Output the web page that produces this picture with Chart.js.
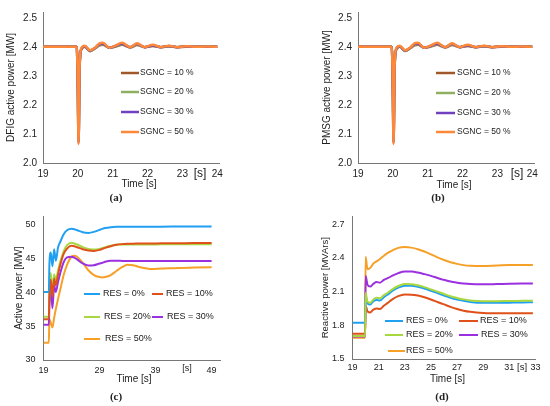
<!DOCTYPE html>
<html>
<head>
<meta charset="utf-8">
<script src="https://cdn.jsdelivr.net/npm/chart.js@4.4.1/dist/chart.umd.min.js"></script>
<style>
  body { margin: 0; background: #fff; }
  #wrap { position: relative; width: 550px; height: 406px; overflow: hidden; }
  canvas { position: absolute; }
  .tag { position: absolute; font: bold 11px 'Liberation Serif', 'DejaVu Serif', serif; color: #222; transform: translate(-50%, -50%); }
</style>
</head>
<body>
<div id="wrap">
  <canvas id="chartA" width="275" height="203" style="left:0;top:0;width:275px;height:203px"></canvas>
  <canvas id="chartB" width="275" height="203" style="left:275px;top:0;width:275px;height:203px"></canvas>
  <canvas id="chartC" width="275" height="203" style="left:0;top:203px;width:275px;height:203px"></canvas>
  <canvas id="chartD" width="275" height="203" style="left:275px;top:203px;width:275px;height:203px"></canvas>
  <div class="tag" style="left:116px;top:197px">(a)</div>
  <div class="tag" style="left:438px;top:197px">(b)</div>
  <div class="tag" style="left:116px;top:396px">(c)</div>
  <div class="tag" style="left:442px;top:396px">(d)</div>
</div>
<script>
const FONT = "'Liberation Sans', Arial, Helvetica, sans-serif";

// ---- (a) DFIG active power, MW ----
const timeA = [19, 19.97, 20.0, 20.02, 20.05, 20.1, 20.2, 20.35, 20.5, 20.62, 20.72, 20.9, 21.08, 21.27, 21.5, 21.7, 21.92, 22.15, 22.38, 22.62, 22.85, 23.1, 23.4, 23.7, 24];
const dfig10 = [2.4, 2.4, 2.25, 2.08, 2.33, 2.391, 2.400, 2.385, 2.395, 2.405, 2.407, 2.397, 2.401, 2.407, 2.398, 2.406, 2.399, 2.403, 2.399, 2.401, 2.399, 2.400, 2.400, 2.400, 2.400];
const dfig20 = [2.4, 2.4, 2.25, 2.075, 2.33, 2.392, 2.401, 2.386, 2.396, 2.407, 2.409, 2.397, 2.402, 2.409, 2.399, 2.408, 2.399, 2.404, 2.399, 2.402, 2.399, 2.401, 2.400, 2.400, 2.400];
const dfig30 = [2.4, 2.4, 2.25, 2.07, 2.33, 2.393, 2.402, 2.387, 2.397, 2.409, 2.411, 2.397, 2.403, 2.411, 2.399, 2.410, 2.399, 2.405, 2.399, 2.403, 2.399, 2.401, 2.400, 2.400, 2.400];
const dfig50 = [2.4, 2.4, 2.25, 2.065, 2.33, 2.395, 2.404, 2.388, 2.398, 2.412, 2.414, 2.397, 2.404, 2.414, 2.399, 2.412, 2.399, 2.407, 2.399, 2.404, 2.399, 2.402, 2.400, 2.401, 2.400];

// ---- (b) PMSG active power, MW ----
const timeB = [19, 19.97, 20.0, 20.02, 20.05, 20.1, 20.2, 20.35, 20.5, 20.62, 20.72, 20.9, 21.08, 21.27, 21.5, 21.7, 21.92, 22.15, 22.38, 22.62, 22.85, 23.1, 23.4, 23.7, 24];
const pmsg10 = [2.4, 2.4, 2.25, 2.08, 2.33, 2.391, 2.400, 2.386, 2.395, 2.405, 2.407, 2.397, 2.401, 2.407, 2.398, 2.406, 2.399, 2.403, 2.399, 2.401, 2.399, 2.400, 2.400, 2.400, 2.400];
const pmsg20 = [2.4, 2.4, 2.25, 2.075, 2.33, 2.392, 2.401, 2.386, 2.396, 2.407, 2.409, 2.397, 2.402, 2.409, 2.399, 2.408, 2.399, 2.404, 2.399, 2.402, 2.399, 2.401, 2.400, 2.400, 2.400];
const pmsg30 = [2.4, 2.4, 2.25, 2.07, 2.33, 2.393, 2.402, 2.387, 2.397, 2.409, 2.411, 2.397, 2.403, 2.411, 2.399, 2.410, 2.399, 2.405, 2.399, 2.403, 2.399, 2.401, 2.400, 2.400, 2.400];
const pmsg50 = [2.4, 2.4, 2.25, 2.065, 2.33, 2.395, 2.404, 2.388, 2.398, 2.412, 2.414, 2.397, 2.404, 2.414, 2.399, 2.412, 2.399, 2.407, 2.399, 2.404, 2.399, 2.402, 2.400, 2.401, 2.400];

const sgncLabels = ['SGNC = 10 %', 'SGNC = 20 %', 'SGNC = 30 %', 'SGNC = 50 %'];
const xTicksAB = [19, 20, 21, 22, 23, 24];
const yTicksAB = [2.0, 2.1, 2.2, 2.3, 2.4, 2.5];

// ---- (c) active power, MW ----
const timeC = [19, 19.95, 20.05, 20.3, 20.6, 20.9, 21.2, 21.6, 22.0, 22.6, 23.2, 24, 24.5, 25, 26, 27, 28, 29, 29.5, 30, 31, 32, 33, 34, 35, 36.5, 38, 40, 43, 46, 49];
const act0  = [40, 40, 44.0, 45.8, 43.8, 46.3, 44.6, 46.6, 47.4, 48.5, 49.1, 49.3, 49.25, 49.1, 48.8, 48.7, 48.85, 49.15, 49.3, 49.42, 49.55, 49.6, 49.6, 49.6, 49.6, 49.6, 49.6, 49.62, 49.63, 49.64, 49.65];
const act10 = [36.0, 36.0, 39.5, 41.8, 39.3, 42.0, 41.0, 42.6, 44.0, 45.6, 46.4, 46.8, 46.75, 46.6, 46.3, 46.1, 46.05, 46.2, 46.35, 46.5, 46.75, 46.95, 47.05, 47.1, 47.12, 47.15, 47.15, 47.17, 47.18, 47.2, 47.2];
const act20 = [36.35, 36.35, 40.0, 42.8, 40.0, 42.6, 41.8, 43.2, 44.5, 46.0, 46.9, 47.25, 47.15, 47.0, 46.6, 46.35, 46.25, 46.35, 46.45, 46.6, 46.8, 46.95, 47.0, 47.0, 47.0, 47.0, 47.0, 47.02, 47.03, 47.04, 47.05];
const act30 = [35.2, 35.2, 38.0, 40.5, 37.6, 41.0, 40.0, 41.5, 42.8, 44.4, 45.1, 45.2, 45.05, 44.8, 44.2, 43.9, 43.95, 44.2, 44.3, 44.45, 44.6, 44.6, 44.58, 44.55, 44.55, 44.55, 44.55, 44.55, 44.55, 44.55, 44.55];
const act50 = [32.55, 32.55, 36.0, 35.5, 34.8, 36.2, 37.5, 39.0, 40.4, 42.5, 44.0, 45.2, 45.35, 45.2, 44.3, 43.2, 42.5, 42.2, 42.15, 42.2, 42.5, 43.1, 43.65, 44.0, 43.95, 43.6, 43.4, 43.45, 43.55, 43.6, 43.65];

// ---- (d) reactive power, MVArs ----
const timeD = [19, 19.97, 20.0, 20.15, 20.35, 20.6, 20.85, 21.1, 21.4, 21.7, 22.1, 22.5, 23, 23.5, 24, 24.5, 25, 25.5, 26, 26.5, 27, 27.5, 28, 29, 30, 31, 32, 32.8];
const react0  = [1.823, 1.823, 2.06, 1.995, 1.985, 2.015, 2.025, 2.02, 2.05, 2.075, 2.11, 2.135, 2.152, 2.152, 2.143, 2.128, 2.108, 2.088, 2.066, 2.046, 2.03, 2.018, 2.008, 2.0, 2.0, 2.002, 2.004, 2.005];
const react10 = [1.724, 1.724, 1.975, 1.925, 1.915, 1.94, 1.95, 1.945, 1.975, 2.0, 2.035, 2.06, 2.074, 2.073, 2.065, 2.05, 2.03, 2.008, 1.986, 1.964, 1.945, 1.93, 1.92, 1.91, 1.908, 1.907, 1.907, 1.907];
const react20 = [1.704, 1.704, 2.09, 2.01, 2.0, 2.03, 2.045, 2.04, 2.07, 2.09, 2.125, 2.15, 2.167, 2.166, 2.156, 2.14, 2.12, 2.1, 2.079, 2.059, 2.044, 2.031, 2.022, 2.015, 2.015, 2.017, 2.018, 2.019];
const react30 = [1.70, 1.70, 2.24, 2.16, 2.145, 2.17, 2.185, 2.18, 2.205, 2.22, 2.245, 2.265, 2.28, 2.279, 2.27, 2.256, 2.24, 2.222, 2.205, 2.19, 2.18, 2.172, 2.167, 2.165, 2.167, 2.17, 2.172, 2.173];
const react50 = [1.69, 1.69, 2.41, 2.30, 2.31, 2.35, 2.37, 2.39, 2.42, 2.445, 2.47, 2.49, 2.497, 2.492, 2.478, 2.457, 2.432, 2.405, 2.382, 2.362, 2.347, 2.336, 2.330, 2.328, 2.332, 2.337, 2.338, 2.338];

const resLabels = ['RES = 0%', 'RES = 10%', 'RES = 20%', 'RES = 30%', 'RES = 50%'];
const xTicksC = [19, 29, 39, 49];
const yTicksC = [30, 35, 40, 45, 50];
const xTicksD = [19, 21, 23, 25, 27, 29, 31, 33];
const yTicksD = [1.5, 1.8, 2.1, 2.4, 2.7];

// draws the in-plot legends and the loose labels ("Time [s]", "[s]")
const overlay = {
  id: 'overlay',
  afterDraw(chart, args, opts) {
    const ctx = chart.ctx;
    ctx.save();
    ctx.textBaseline = 'middle';
    (opts.legend || []).forEach(item => {
      const ds = chart.data.datasets[item.i];
      ctx.strokeStyle = ds.borderColor;
      ctx.lineWidth = opts.lineWidth;
      ctx.beginPath();
      ctx.moveTo(item.x1, item.y);
      ctx.lineTo(item.x2, item.y);
      ctx.stroke();
      ctx.fillStyle = '#222';
      ctx.textAlign = 'left';
      ctx.font = opts.legendSize + 'px ' + FONT;
      ctx.fillText(ds.label, item.tx, item.y);
    });
    (opts.texts || []).forEach(t => {
      ctx.fillStyle = '#222';
      ctx.textAlign = 'center';
      ctx.font = t.size + 'px ' + FONT;
      ctx.fillText(t.text, t.x, t.y);
    });
    ctx.restore();
  }
};

function makePanel(id, p) {
  const datasets = p.series.map((s, k) => ({
    label: p.labels[k],
    data: p.time.map((t, i) => ({ x: t, y: s[i] })),
    borderColor: p.colors[k],
    borderWidth: p.lineWidth,
    pointRadius: 0,
    cubicInterpolationMode: 'monotone',
    order: p.order[k]
  }));
  return new Chart(document.getElementById(id), {
    type: 'line',
    data: { datasets },
    plugins: [overlay],
    options: {
      responsive: false,
      animation: false,
      layout: { padding: p.padding },
      plugins: {
        legend: { display: false },
        tooltip: { enabled: false },
        overlay: p.overlay
      },
      scales: {
        x: {
          type: 'linear',
          min: p.xMin, max: p.xMax,
          grid: { display: false, drawTicks: false },
          border: { display: true, color: '#777', width: 1 },
          ticks: { padding: p.xTickPad, color: '#222', font: { size: p.tickSize, family: FONT } },
          afterBuildTicks: s => { s.ticks = p.xTicks.map(v => ({ value: v })); },
          afterFit: s => { s.height = p.xHeight; }
        },
        y: {
          min: p.yMin, max: p.yMax,
          grid: { display: false, drawTicks: false },
          border: { display: true, color: '#777', width: 1 },
          ticks: {
            padding: p.yTickPad, color: '#222', font: { size: p.tickSize, family: FONT },
            callback: v => v.toFixed(p.yDec)
          },
          title: {
            display: true, text: p.yTitle, color: '#222',
            font: { size: p.yTitleSize, family: FONT },
            padding: { top: p.yTitlePad, bottom: 0 }
          },
          afterBuildTicks: s => { s.ticks = p.yTicks.map(v => ({ value: v })); },
          afterFit: s => { s.width = p.yWidth; }
        }
      }
    }
  });
}

const sgncColors = ['#a0582a', '#8fb060', '#7040c0', '#ff8838'];
const resColors = ['#20a0f0', '#e0501a', '#a8d840', '#9b30e0', '#f7a028'];

makePanel('chartA', {
  time: timeA, series: [dfig10, dfig20, dfig30, dfig50], labels: sgncLabels,
  colors: sgncColors, order: [4, 3, 2, 1], lineWidth: 2.5,
  xMin: 19, xMax: 24.05, yMin: 2.0, yMax: 2.52, xTicks: xTicksAB, yTicks: yTicksAB, yDec: 1,
  padding: { left: 0, top: 7, right: 56, bottom: 0 }, xHeight: 40, yWidth: 43,
  tickSize: 10, xTickPad: 5, yTickPad: 6, yTitle: 'DFIG active power [MW]', yTitleSize: 10, yTitlePad: 5,
  overlay: {
    lineWidth: 2.5, legendSize: 8.5,
    legend: [
      { i: 0, x1: 121, x2: 139, tx: 140, y: 73 },
      { i: 1, x1: 121, x2: 139, tx: 140, y: 92 },
      { i: 2, x1: 121, x2: 139, tx: 140, y: 112 },
      { i: 3, x1: 121, x2: 139, tx: 140, y: 132 }
    ],
    texts: [
      { text: 'Time [s]', x: 139, y: 184, size: 10 },
      { text: '[s]', x: 200, y: 174, size: 12 }
    ]
  }
});

makePanel('chartB', {
  time: timeB, series: [pmsg10, pmsg20, pmsg30, pmsg50], labels: sgncLabels,
  colors: sgncColors, order: [4, 3, 2, 1], lineWidth: 2.5,
  xMin: 19, xMax: 24.05, yMin: 2.0, yMax: 2.52, xTicks: xTicksAB, yTicks: yTicksAB, yDec: 1,
  padding: { left: 0, top: 6, right: 16, bottom: 0 }, xHeight: 40, yWidth: 83,
  tickSize: 10, xTickPad: 5, yTickPad: 6, yTitle: 'PMSG active power [MW]', yTitleSize: 10, yTitlePad: 46.5,
  overlay: {
    lineWidth: 2.5, legendSize: 8.5,
    legend: [
      { i: 0, x1: 161, x2: 180, tx: 182, y: 73 },
      { i: 1, x1: 161, x2: 180, tx: 182, y: 93 },
      { i: 2, x1: 161, x2: 180, tx: 182, y: 113 },
      { i: 3, x1: 161, x2: 180, tx: 182, y: 132 }
    ],
    texts: [
      { text: 'Time [s]', x: 179, y: 185, size: 10 },
      { text: '[s]', x: 242, y: 174, size: 12 }
    ]
  }
});

makePanel('chartC', {
  time: timeC, series: [act0, act10, act20, act30, act50], labels: resLabels,
  colors: resColors, order: [1, 2, 3, 4, 5], lineWidth: 2,
  xMin: 19, xMax: 50.5, yMin: 30, yMax: 51.13, xTicks: xTicksC, yTicks: yTicksC, yDec: 0,
  padding: { left: 0, top: 8, right: 55, bottom: 0 }, xHeight: 46, yWidth: 43.5,
  tickSize: 9, xTickPad: 5, yTickPad: 8, yTitle: 'Active power [MW]', yTitleSize: 10, yTitlePad: 13.5,
  overlay: {
    lineWidth: 2, legendSize: 9,
    legend: [
      { i: 0, x1: 84, x2: 100, tx: 103, y: 91 },
      { i: 1, x1: 152, x2: 163, tx: 166, y: 91 },
      { i: 2, x1: 84, x2: 100, tx: 104, y: 114 },
      { i: 3, x1: 152, x2: 163, tx: 167, y: 114 },
      { i: 4, x1: 84, x2: 100, tx: 105, y: 136 }
    ],
    texts: [
      { text: 'Time [s]', x: 134, y: 176, size: 10 },
      { text: '[s]', x: 187, y: 166, size: 9 }
    ]
  }
});

makePanel('chartD', {
  time: timeD, series: [react0, react10, react20, react30, react50], labels: resLabels,
  colors: resColors, order: [2, 3, 1, 4, 5], lineWidth: 2,
  xMin: 19, xMax: 33, yMin: 1.5, yMax: 2.77, xTicks: xTicksD, yTicks: yTicksD, yDec: 1,
  padding: { left: 0, top: 7, right: 14.5, bottom: 0 }, xHeight: 47, yWidth: 77.5,
  tickSize: 9, xTickPad: 3, yTickPad: 8, yTitle: 'Reactive power [MVArs]', yTitleSize: 9.5, yTitlePad: 44.5,
  overlay: {
    lineWidth: 2, legendSize: 9,
    legend: [
      { i: 0, x1: 110, x2: 128, tx: 131, y: 118 },
      { i: 1, x1: 184, x2: 203, tx: 205, y: 118 },
      { i: 2, x1: 110, x2: 128, tx: 131, y: 132 },
      { i: 3, x1: 184, x2: 203, tx: 206, y: 132 },
      { i: 4, x1: 113, x2: 130, tx: 131, y: 148 }
    ],
    texts: [
      { text: 'Time [s]', x: 172.5, y: 176, size: 10 },
      { text: '[s]', x: 247, y: 164, size: 9.5 }
    ]
  }
});
</script>
</body>
</html>
